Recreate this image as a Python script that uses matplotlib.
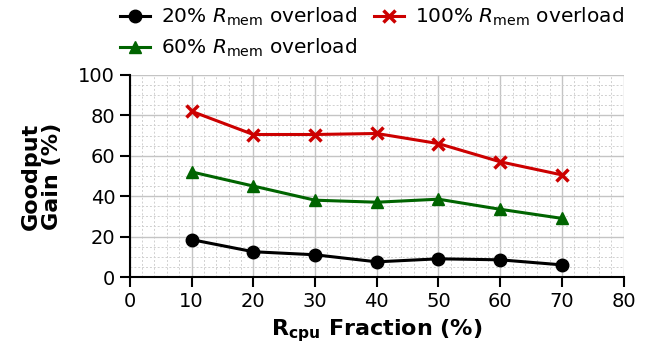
import matplotlib
matplotlib.use("Agg")
import matplotlib.pyplot as plt
from matplotlib.ticker import MultipleLocator

x = [10, 20, 30, 40, 50, 60, 70]
gain_20 = [18.5, 12.5, 11, 7.5, 9, 8.5, 6]
gain_60 = [52, 45, 38, 37, 38.5, 33.5, 29]
gain_100 = [82, 70.5, 70.5, 71, 66, 57, 50.5]

fig = plt.figure(figsize=(6.49, 3.54), dpi=100)
ax = fig.add_axes([0.2, 0.2175, 0.761, 0.571])

l1, = ax.plot(x, gain_20, color="black", marker="o", markersize=9, lw=2.2, label=r"20% $R_{\mathrm{mem}}$ overload")
l2, = ax.plot(x, gain_60, color="#006400", marker="^", markersize=9, lw=2.2, label=r"60% $R_{\mathrm{mem}}$ overload")
l3, = ax.plot(x, gain_100, color="#cc0000", marker="x", markersize=9, mew=2.5, lw=2.2, label=r"100% $R_{\mathrm{mem}}$ overload")

ax.set_xlim(0, 80)
ax.set_ylim(0, 100)
ax.xaxis.set_major_locator(MultipleLocator(10))
ax.xaxis.set_minor_locator(MultipleLocator(2))
ax.yaxis.set_major_locator(MultipleLocator(20))
ax.yaxis.set_minor_locator(MultipleLocator(5))
ax.grid(which="major", color="#c4c4c4", lw=1, ls="-")
ax.grid(which="minor", color="#d0d0d0", lw=0.7, ls=(0, (2, 2)))
ax.set_axisbelow(True)
ax.tick_params(which="major", direction="out", length=7, width=1.5, labelsize=14)
ax.tick_params(which="minor", length=0)
for s in ["top", "right"]:
    ax.spines[s].set_visible(False)
for s in ["left", "bottom"]:
    ax.spines[s].set_linewidth(1.5)

ax.set_xlabel(r"R$_{\mathbf{cpu}}$ Fraction (%)", fontsize=16, fontweight="bold", labelpad=5)
ax.set_ylabel("Goodput\nGain (%)", fontsize=16, fontweight="bold", linespacing=1.05, labelpad=12)

fig.legend(handles=[l1, l2, l3], ncol=2, frameon=False, fontsize=14.5,
           loc="upper left", bbox_to_anchor=(0.157, 1.035), handlelength=1.5,
           columnspacing=0.8, handletextpad=0.55, labelspacing=0.45)

fig.savefig("out.png", dpi=100)
